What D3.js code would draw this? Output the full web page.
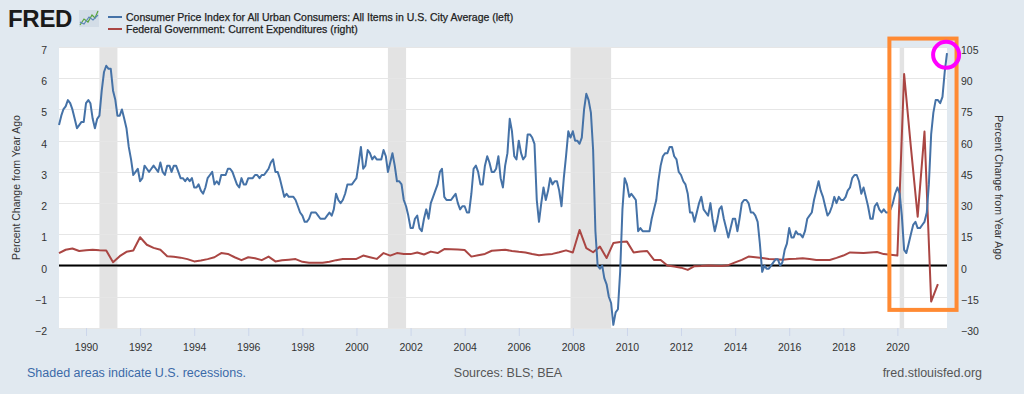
<!DOCTYPE html>
<html>
<head>
<meta charset="utf-8">
<script src="https://cdn.jsdelivr.net/npm/d3@7"></script>
<style>
  body { margin: 0; background: #e1e9f0; }
  svg { display: block; font-family: "Liberation Sans", Arial, sans-serif; }
</style>
</head>
<body>
<script>
// CPI, percent change from year ago, monthly from Jan 1989
const cpiStart = "1989-01-01";
const cpiValues = [
  4.5, 4.8, 5.0, 5.1, 5.3, 5.2, 5.0, 4.7, 4.4, 4.5, 4.6, 4.6,   // 1989
  5.2, 5.3, 5.2, 4.7, 4.4, 4.7, 4.8, 5.6, 6.2, 6.4, 6.3, 6.3,   // 1990
  5.6, 5.3, 4.8, 4.8, 5.0, 4.7, 4.4, 3.8, 3.4, 2.9, 3.0, 3.1,   // 1991
  2.7, 2.8, 3.2, 3.1, 3.0, 3.1, 3.2, 3.1, 3.0, 3.3, 3.0, 2.9,   // 1992
  3.2, 3.2, 3.0, 3.2, 3.2, 3.0, 2.8, 2.8, 2.7, 2.8, 2.7, 2.8,   // 1993
  2.5, 2.5, 2.6, 2.4, 2.3, 2.5, 2.8, 2.9, 3.0, 2.6, 2.7, 2.6,   // 1994
  2.9, 2.9, 2.9, 3.1, 3.1, 3.0, 2.8, 2.6, 2.5, 2.8, 2.6, 2.6,   // 1995
  2.8, 2.8, 2.8, 2.9, 2.9, 2.8, 2.9, 2.9, 3.0, 3.1, 3.3, 3.4,   // 1996
  3.0, 3.0, 2.8, 2.5, 2.2, 2.3, 2.2, 2.2, 2.2, 2.1, 1.9, 1.7,   // 1997
  1.6, 1.4, 1.4, 1.5, 1.7, 1.7, 1.7, 1.6, 1.5, 1.5, 1.5, 1.6,   // 1998
  1.7, 1.6, 1.8, 2.3, 2.1, 2.0, 2.1, 2.3, 2.6, 2.6, 2.6, 2.7,   // 1999
  2.8, 3.3, 3.8, 3.1, 3.2, 3.7, 3.6, 3.4, 3.5, 3.4, 3.4, 3.4,   // 2000
  3.7, 3.5, 3.0, 3.3, 3.6, 3.2, 2.7, 2.7, 2.6, 2.1, 1.9, 1.6,   // 2001
  1.2, 1.2, 1.5, 1.6, 1.2, 1.1, 1.5, 1.8, 1.5, 2.0, 2.2, 2.4,   // 2002
  2.6, 3.0, 3.1, 2.2, 2.1, 2.1, 2.1, 2.2, 2.3, 2.0, 1.8, 1.9,   // 2003
  1.9, 1.7, 1.7, 2.3, 3.1, 3.2, 3.0, 2.6, 2.6, 3.2, 3.5, 3.3,   // 2004
  3.0, 3.0, 3.1, 3.5, 2.8, 2.5, 3.2, 3.6, 4.7, 4.3, 3.5, 3.4,   // 2005
  4.0, 3.6, 3.4, 3.5, 4.2, 4.2, 4.1, 3.9, 2.1, 1.4, 2.0, 2.5,   // 2006
  2.1, 2.4, 2.8, 2.6, 2.7, 2.7, 2.4, 1.9, 2.8, 3.5, 4.3, 4.1,   // 2007
  4.3, 4.0, 4.0, 3.9, 4.1, 5.0, 5.5, 5.3, 4.9, 3.7, 1.1, 0.0,   // 2008
  -0.1, 0.0, -0.4, -0.6, -1.0, -1.2, -1.9, -1.5, -1.4, -0.2, 1.8, 2.8, // 2009
  2.6, 2.2, 2.3, 2.2, 2.1, 1.1, 1.2, 1.1, 1.1, 1.1, 1.1, 1.5,   // 2010
  1.8, 2.1, 2.7, 3.2, 3.5, 3.6, 3.6, 3.8, 3.8, 3.5, 3.4, 3.0,   // 2011
  2.9, 2.7, 2.6, 2.3, 1.7, 1.7, 1.4, 1.7, 2.0, 2.2, 1.8, 1.7,   // 2012
  1.6, 2.0, 1.5, 1.1, 1.4, 1.8, 1.9, 1.5, 1.2, 0.9, 1.2, 1.5,   // 2013
  1.5, 1.1, 1.5, 2.0, 2.1, 2.1, 2.0, 1.7, 1.7, 1.6, 1.4, 0.7,   // 2014
  -0.2, 0.0, -0.1, -0.1, 0.0, 0.1, 0.2, 0.2, 0.0, 0.1, 0.5, 0.7, // 2015
  1.2, 0.9, 0.9, 1.1, 1.0, 1.0, 0.9, 1.1, 1.5, 1.6, 1.7, 2.1,   // 2016
  2.4, 2.7, 2.4, 2.2, 1.9, 1.6, 1.7, 1.9, 2.2, 2.0, 2.2, 2.1,   // 2017
  2.1, 2.2, 2.4, 2.5, 2.8, 2.9, 2.9, 2.7, 2.3, 2.5, 2.2, 1.9,   // 2018
  1.5, 1.5, 1.9, 2.0, 1.8, 1.7, 1.8, 1.7, 1.7, 1.8, 2.0, 2.3,   // 2019
  2.5, 2.3, 1.6, 0.5, 0.4, 0.7, 1.0, 1.3, 1.4, 1.2, 1.2, 1.3,   // 2020
  1.4, 1.7, 2.6, 4.2, 4.9, 5.3, 5.3, 5.2, 5.4, 6.2, 6.8         // 2021
];

// Federal government current expenditures, percent change from year ago, quarterly from 1989Q1
const fedStart = "1989-01-01";
const fedValues = [
  6.0, 7.6, 8.2, 7.0,    // 1989
  7.4, 7.6, 7.3, 7.2,    // 1990
  1.6, 4.5, 6.6, 7.2,    // 1991
  13.6, 10.0, 8.5, 7.6,  // 1992
  4.5, 4.2, 3.8, 3.1,    // 1993
  2.0, 2.4, 3.1, 4.0,    // 1994
  6.0, 5.6, 4.0, 2.6,    // 1995
  4.0, 3.5, 2.6, 4.3,    // 1996
  2.0, 2.5, 2.8, 3.1,    // 1997
  1.8, 1.4, 1.3, 1.4,    // 1998
  1.8, 2.6, 3.1, 3.2,    // 1999
  3.2, 4.8, 4.0, 3.2,    // 2000
  6.0, 4.8, 6.0, 5.6,    // 2001
  5.5, 6.3, 5.3, 6.7,    // 2002
  6.0, 7.9, 7.8, 7.7,    // 2003
  7.5, 4.3, 5.0, 5.6,    // 2004
  7.1, 7.4, 7.6, 7.0,    // 2005
  6.6, 6.3, 5.6, 5.0,    // 2006
  5.3, 5.6, 6.4, 7.3,    // 2007
  6.3, 17.1, 8.4, 6.4,   // 2008
  9.1, 3.6, 10.8, 11.3,  // 2009
  11.5, 6.3, 6.8, 7.0,   // 2010
  2.7, 2.7, 0.0, -0.5,   // 2011
  -1.0, -2.1, -0.3, -0.2, // 2012
  0.0, -0.1, -0.2, 0.2,  // 2013
  1.5, 2.7, 4.3, 4.0,    // 2014
  3.6, 3.2, 3.0, 2.8,    // 2015
  3.2, 3.3, 3.5, 3.1,    // 2016
  2.7, 2.7, 2.7, 3.7,    // 2017
  4.8, 6.3, 6.2, 6.0,    // 2018
  6.3, 6.5, 5.5, 5.2,    // 2019
  4.8, 92.0, 57.0, 23.5, // 2020
  64.4, -17.3, -8.9      // 2021
];

const recessions = [
  ["1990-07-01", "1991-03-01"],
  ["2001-03-01", "2001-11-01"],
  ["2007-12-01", "2009-06-01"],
  ["2020-02-01", "2020-04-01"]
];

const yearTicks = d3.range(1990, 2021, 2);
const leftTicks = d3.range(-2, 8, 1);
const rightTicks = d3.range(-30, 106, 15);

const legendItems = [
  { label: "Consumer Price Index for All Urban Consumers: All Items in U.S. City Average (left)", color: "#4572a7" },
  { label: "Federal Government: Current Expenditures (right)", color: "#aa4643" }
];

// annotation drawn over the chart (box around 2020-21, circle on latest CPI)
const boxFrom = "2019-09-15", boxTo = "2022-03-10", boxTop = 7.27, boxBottom = -1.42;
const circleAt = "2021-10-20", circleValue = 6.75;

const parse = d3.timeParse("%Y-%m-%d");
const W = 1024, H = 394;
const plot = { left: 59, right: 947, top: 47, bottom: 328 };

const svg = d3.select("body").append("svg")
  .attr("width", W).attr("height", H);

svg.append("rect").attr("width", W).attr("height", H).attr("fill", "#e1e9f0");

const x = d3.scaleTime()
  .domain([parse("1989-01-01"), parse("2021-11-01")])
  .range([plot.left, plot.right]);
const yL = d3.scaleLinear().domain([-2, 7]).range([plot.bottom, plot.top]);
const yR = d3.scaleLinear().domain([-30, 105]).range([plot.bottom, plot.top]);

const cpi = cpiValues.map((v, i) => ({ date: d3.timeMonth.offset(parse(cpiStart), i), value: v }));
const fed = fedValues.map((v, i) => ({ date: d3.timeMonth.offset(parse(fedStart), 3 * i), value: v }));

// plot area
svg.append("rect")
  .attr("x", plot.left).attr("y", plot.top)
  .attr("width", plot.right - plot.left).attr("height", plot.bottom - plot.top)
  .attr("fill", "#ffffff");

// recession bands
svg.append("g").selectAll("rect")
  .data(recessions)
  .join("rect")
  .attr("x", d => x(parse(d[0])))
  .attr("width", d => x(parse(d[1])) - x(parse(d[0])))
  .attr("y", plot.top).attr("height", plot.bottom - plot.top)
  .attr("fill", "#e3e3e3");

// horizontal grid
svg.append("g").selectAll("line")
  .data(leftTicks)
  .join("line")
  .attr("x1", plot.left).attr("x2", plot.right)
  .attr("y1", d => Math.round(yL(d)) + 0.5).attr("y2", d => Math.round(yL(d)) + 0.5)
  .attr("stroke", "#e6e6e6");

// x axis ticks and labels
const xAxis = svg.append("g")
  .attr("transform", `translate(0,${plot.bottom})`)
  .call(d3.axisBottom(x)
    .tickValues(yearTicks.map(yr => new Date(yr, 0, 1)))
    .tickFormat(d3.timeFormat("%Y"))
    .tickSize(8).tickPadding(8));
xAxis.select(".domain").remove();
xAxis.selectAll(".tick line").attr("stroke", "#ccd6eb");
xAxis.selectAll(".tick text")
  .attr("fill", "#333").attr("font-size", "10.5px")
  .attr("font-family", "Liberation Sans, Arial, sans-serif");

// left axis labels
const leftAxis = svg.append("g")
  .attr("transform", `translate(${plot.left},0)`)
  .call(d3.axisLeft(yL).tickValues(leftTicks).tickSize(0).tickPadding(12));
leftAxis.select(".domain").remove();
leftAxis.selectAll(".tick text")
  .attr("fill", "#333").attr("font-size", "10.5px").attr("dy", "0.62em")
  .attr("font-family", "Liberation Sans, Arial, sans-serif");

// right axis labels
const rightAxis = svg.append("g")
  .attr("transform", `translate(${plot.right},0)`)
  .call(d3.axisRight(yR).tickValues(rightTicks).tickSize(0).tickPadding(14));
rightAxis.select(".domain").remove();
rightAxis.selectAll(".tick text")
  .attr("fill", "#333").attr("font-size", "10.5px").attr("dy", "0.62em")
  .attr("font-family", "Liberation Sans, Arial, sans-serif");

// zero line
svg.append("line")
  .attr("x1", plot.left).attr("x2", plot.right)
  .attr("y1", yL(0)).attr("y2", yL(0))
  .attr("stroke", "#000").attr("stroke-width", 2);

// series
svg.append("path")
  .datum(fed)
  .attr("fill", "none").attr("stroke", "#aa4643").attr("stroke-width", 2)
  .attr("stroke-linejoin", "round")
  .attr("d", d3.line().x(d => x(d.date)).y(d => yR(d.value)));

svg.append("path")
  .datum(cpi)
  .attr("fill", "none").attr("stroke", "#4572a7").attr("stroke-width", 2)
  .attr("stroke-linejoin", "round")
  .attr("d", d3.line().x(d => x(d.date)).y(d => yL(d.value)));

// axis titles
svg.append("text")
  .attr("transform", `translate(20,${(plot.top + plot.bottom) / 2}) rotate(-90)`)
  .attr("text-anchor", "middle").attr("font-size", "10.5px").attr("fill", "#333")
  .text("Percent Change from Year Ago");
svg.append("text")
  .attr("transform", `translate(995,${(plot.top + plot.bottom) / 2}) rotate(90)`)
  .attr("text-anchor", "middle").attr("font-size", "10.5px").attr("fill", "#333")
  .text("Percent Change from Year Ago");

// FRED logo
svg.append("text")
  .attr("x", 8).attr("y", 27)
  .attr("font-size", "24px").attr("font-weight", "bold").attr("fill", "#1a1a1a")
  .attr("letter-spacing", "-0.3px")
  .text("FRED");
const icon = svg.append("g");
icon.append("rect").attr("x", 79).attr("y", 10).attr("width", 20).attr("height", 17)
  .attr("fill", "#d3dde7");
icon.append("polyline").attr("points", "80,25 84,19 88,22 92,15 95,18 98,11")
  .attr("fill", "none").attr("stroke", "#5aa53c").attr("stroke-width", 1.2);
icon.append("polyline").attr("points", "80,22 84,24 89,17 93,20 98,15")
  .attr("fill", "none").attr("stroke", "#5b86b8").attr("stroke-width", 1.2);

// legend
const legend = svg.append("g").selectAll("g")
  .data(legendItems)
  .join("g")
  .attr("transform", (d, i) => `translate(108,${17 + i * 12})`);
legend.append("line")
  .attr("x1", 0).attr("x2", 14)
  .attr("stroke", d => d.color).attr("stroke-width", 2);
legend.append("text")
  .attr("x", 18).attr("y", 3.8)
  .attr("font-size", "10.5px").attr("fill", "#222")
  .attr("stroke", "#222").attr("stroke-width", 0.25)
  .text(d => d.label);

// footer
svg.append("text").attr("x", 27).attr("y", 377)
  .attr("font-size", "12.5px").attr("fill", "#3b6aa8")
  .text("Shaded areas indicate U.S. recessions.");
svg.append("text").attr("x", 508).attr("y", 377).attr("text-anchor", "middle")
  .attr("font-size", "12.5px").attr("fill", "#555")
  .text("Sources: BLS; BEA");
svg.append("text").attr("x", 982).attr("y", 377).attr("text-anchor", "end")
  .attr("font-size", "12.5px").attr("fill", "#555")
  .text("fred.stlouisfed.org");

// annotations
svg.append("rect")
  .attr("x", x(parse(boxFrom))).attr("y", yL(boxTop))
  .attr("width", x(parse(boxTo)) - x(parse(boxFrom)))
  .attr("height", yL(boxBottom) - yL(boxTop))
  .attr("fill", "none").attr("stroke", "#ff8a33").attr("stroke-width", 4);
svg.append("circle")
  .attr("cx", x(parse(circleAt))).attr("cy", yL(circleValue)).attr("r", 13)
  .attr("fill", "none").attr("stroke", "#ff00ff").attr("stroke-width", 4);
</script>
</body>
</html>
